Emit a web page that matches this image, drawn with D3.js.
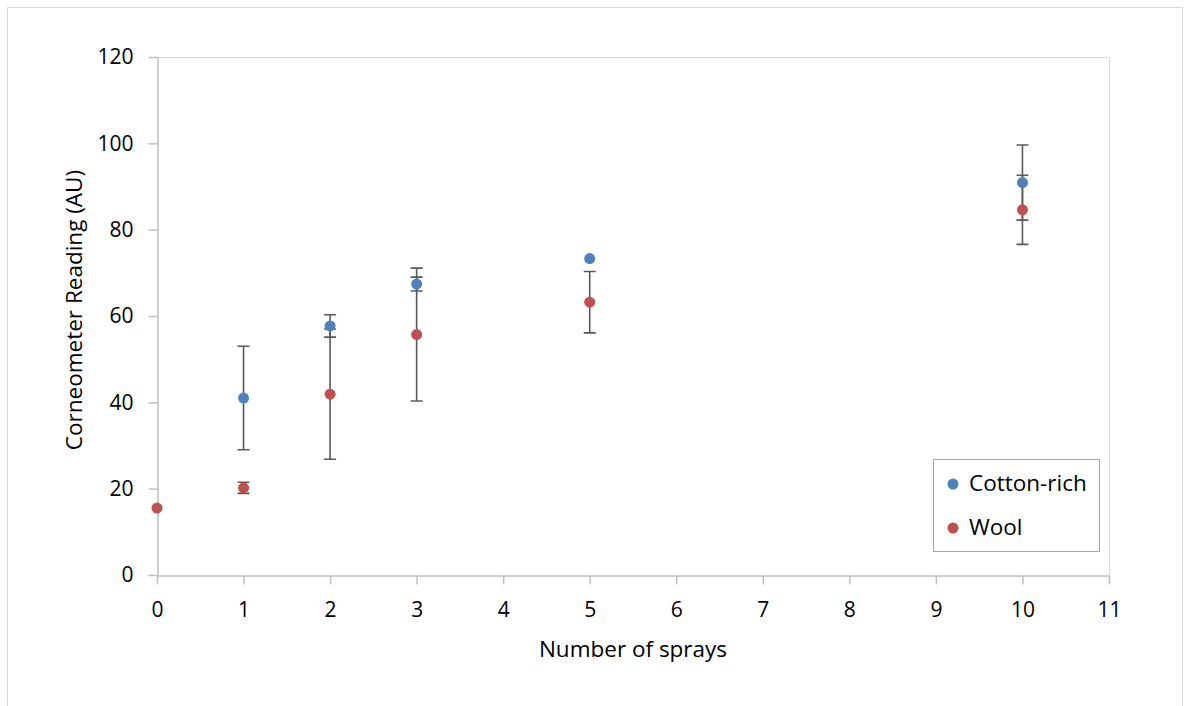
<!DOCTYPE html>
<html>
<head>
<meta charset="utf-8">
<script src="https://cdn.jsdelivr.net/npm/d3@7"></script>
<style>
  body { margin: 0; background: #fff; overflow: hidden; }
  svg { display: block; }
  text { font-family: "Open Sans", "Liberation Sans", sans-serif; fill: #000; }
</style>
</head>
<body>
<svg></svg>
<script>
let svgWidth = 1184
let svgHeight = 706

// data
let xTicks = [0, 1, 2, 3, 4, 5, 6, 7, 8, 9, 10, 11]
let yTicks = [0, 20, 40, 60, 80, 100, 120]

let cottonX = [1, 2, 3, 5, 10]
let cottonY = [41.0, 57.7, 67.4, 73.3, 90.9]
let cottonErr = [12.0, 2.6, 1.6, 0, 8.7]

let woolX = [0, 1, 2, 3, 5, 10]
let woolY = [15.5, 20.2, 41.9, 55.7, 63.2, 84.6]
let woolErr = [0, 1.3, 15.1, 15.4, 7.1, 8.0]

let series = [
  { name: 'Cotton-rich', color: '#4F81BD', x: cottonX, y: cottonY, err: cottonErr },
  { name: 'Wool', color: '#C0504D', x: woolX, y: woolY, err: woolErr }
]

let plotLeft = 157, plotRight = 1109, plotTop = 57, plotBottom = 575

let svg = d3.select('svg')
    .attr('width', svgWidth)
    .attr('height', svgHeight)

/* outer frame */
svg.append('rect')
    .attr('x', 7.5).attr('y', 7.5)
    .attr('width', 1175).attr('height', 710)
    .attr('fill', 'none')
    .attr('stroke', '#d9d9d9')

let xScale = d3.scaleLinear().domain([0, 11]).range([plotLeft, plotRight])
let yScale = d3.scaleLinear().domain([0, 120]).range([plotBottom, plotTop])

/* plot area border (top and right) */
svg.append('path')
    .attr('d', `M${plotLeft},${plotTop + 0.5}H${plotRight + 0.5}V${plotBottom}`)
    .attr('fill', 'none')
    .attr('stroke', '#d9d9d9')

/* axes */
svg.append('g')
    .attr('transform', `translate(0, ${plotBottom + 0.5})`)
    .call(d3.axisBottom(xScale).tickValues(xTicks).tickSize(9).tickSizeOuter(0).tickPadding(18))
svg.append('g')
    .attr('transform', `translate(${plotLeft + 0.5}, 0)`)
    .call(d3.axisLeft(yScale).tickValues(yTicks).tickSize(9).tickSizeOuter(0).tickPadding(15))

svg.selectAll('.domain, .tick line').attr('stroke', '#bfbfbf').attr('stroke-width', 1.5)
svg.selectAll('.tick text')
    .style('font-size', '21px')
    .attr('fill', '#000')

/* axis titles */
svg.append('text')
    .attr('x', (plotLeft + plotRight) / 2)
    .attr('y', 657)
    .style('font-size', '22.5px')
    .style('text-anchor', 'middle')
    .text('Number of sprays')

svg.append('text')
    .attr('transform', `translate(82, 310) rotate(-90)`)
    .style('font-size', '22.5px')
    .style('text-anchor', 'middle')
    .text('Corneometer Reading (AU)')

/* error bars */
series.forEach(s => {
  let g = svg.append('g')
  s.x.forEach((xv, i) => {
    if (!s.err[i]) return
    let cx = xScale(xv)
    let y1 = yScale(s.y[i] + s.err[i])
    let y2 = yScale(s.y[i] - s.err[i])
    g.append('path')
        .attr('d', `M${cx},${y1}V${y2}M${cx - 6},${y1}H${cx + 6}M${cx - 6},${y2}H${cx + 6}`)
        .attr('fill', 'none')
        .attr('stroke', '#595959')
        .attr('stroke-width', 1.6)
  })
})

/* markers */
series.forEach(s => {
  svg.append('g')
    .selectAll('circle')
    .data(s.x.map((xv, i) => [xv, s.y[i]]))
    .enter()
    .append('circle')
      .attr('cx', d => xScale(d[0]))
      .attr('cy', d => yScale(d[1]))
      .attr('r', 5.5)
      .attr('fill', s.color)
})

/* legend */
let legend = svg.append('g')
legend.append('rect')
    .attr('x', 933.5).attr('y', 459.5)
    .attr('width', 166).attr('height', 92)
    .attr('fill', '#fff')
    .attr('stroke', '#a6a6a6')
series.forEach((s, i) => {
  let ly = 484 + i * 44
  legend.append('circle')
      .attr('cx', 953).attr('cy', ly)
      .attr('r', 5.5)
      .attr('fill', s.color)
  legend.append('text')
      .attr('x', 969).attr('y', ly + 7)
      .style('font-size', '22.5px')
      .text(s.name)
})
</script>
</body>
</html>
